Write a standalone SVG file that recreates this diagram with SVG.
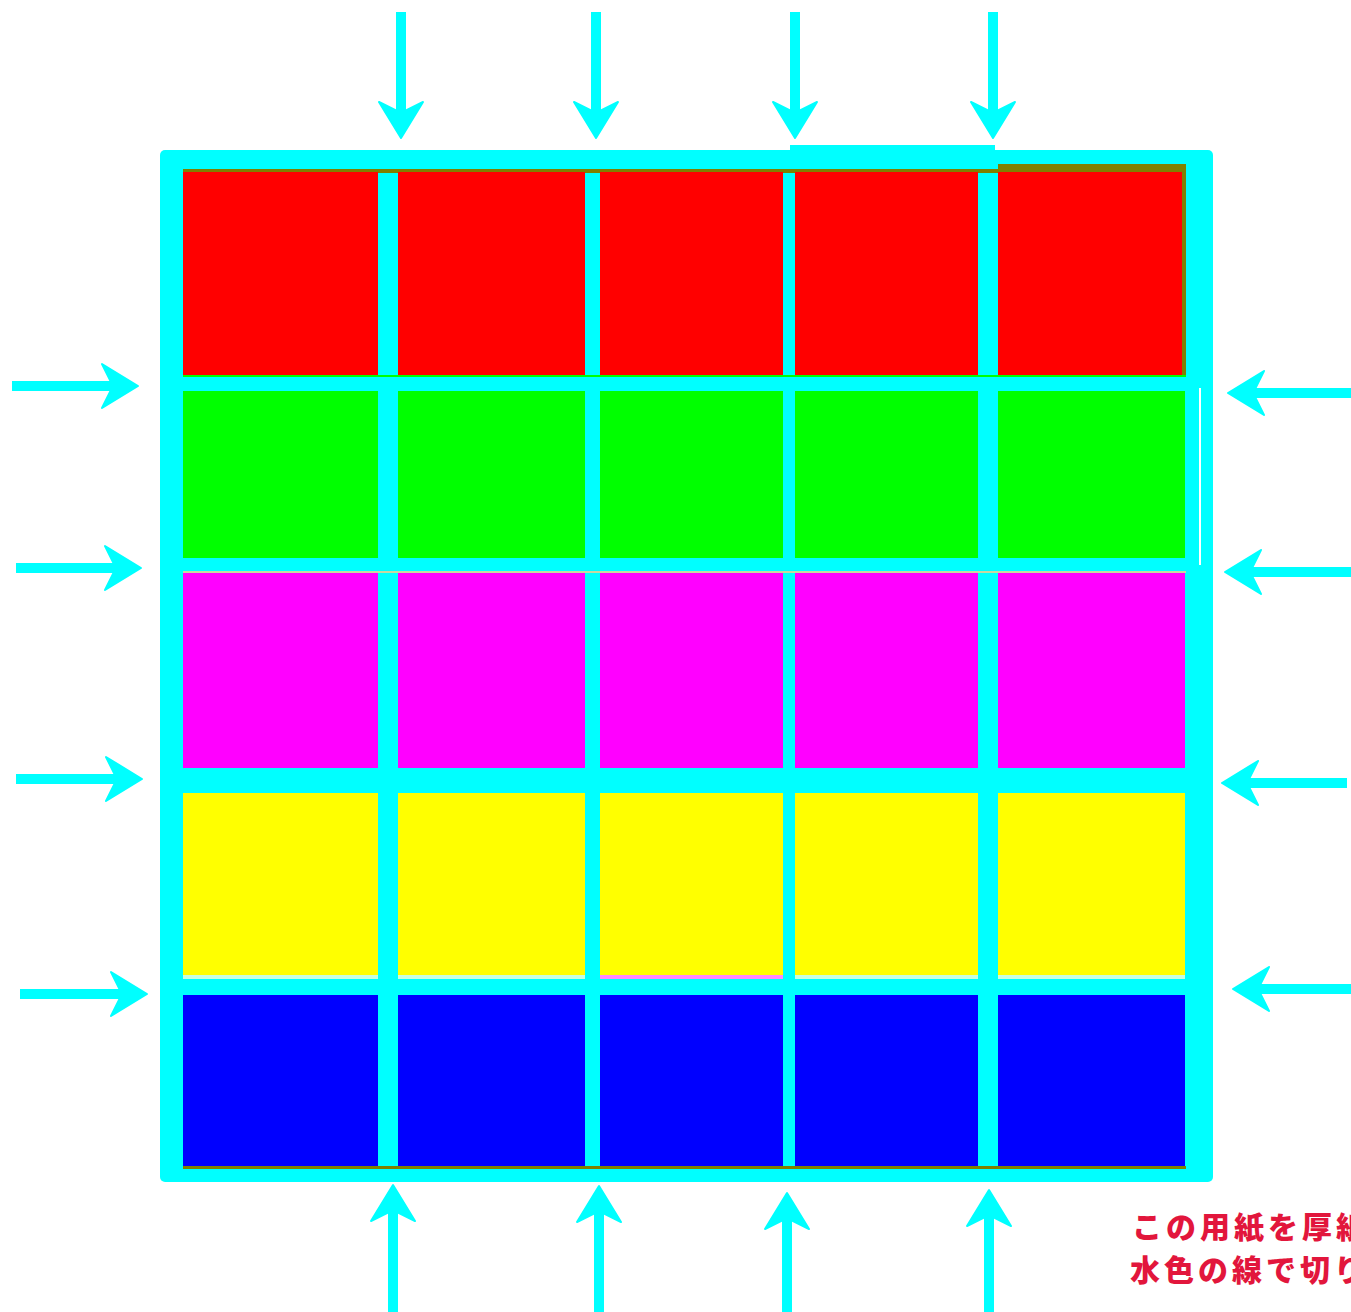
<svg xmlns="http://www.w3.org/2000/svg" xmlns:xlink="http://www.w3.org/1999/xlink" width="1351" height="1312" viewBox="0 0 1351 1312">
<style>
.frame{fill:#00ffff}
.shaft{stroke:#00ffff;stroke-width:10;fill:none}
.head{fill:#00ffff;stroke:#00ffff;stroke-width:2;stroke-linejoin:round}
.r{fill:#ff0000}.g{fill:#00ff00}.m{fill:#ff00ff}.y{fill:#ffff00}.b{fill:#0000ff}
.ol{fill:#808000}
.note{font-family:"Noto Sans CJK JP","Noto Sans",sans-serif;font-weight:900;font-size:30px;fill:#e2163c;letter-spacing:4px}
</style>
<defs>
<path id="head" d="M0,0 L-36,-22 L-27,-4 L-27,4 L-36,22 Z"/>
</defs>
<rect width="1351" height="1312" fill="#ffffff"/>
<g id="sheet">
<rect class="frame" x="160" y="150" width="1053" height="1032" rx="5"/>
<rect class="frame" x="790" y="145" width="205" height="12"/>
<rect x="1199" y="388" width="2" height="177" fill="#ffffff"/>
</g>
<g id="row-red">
<rect class="ol" x="183" y="169" width="1003" height="4"/>
<rect class="ol" x="998" y="164" width="188" height="9"/>
<rect class="ol" x="1182" y="164" width="4" height="211"/>
<rect class="r" x="183" y="172" width="195" height="203"/>
<rect class="r" x="398" y="172" width="187" height="203"/>
<rect class="r" x="600" y="172" width="183" height="203"/>
<rect class="r" x="795" y="172" width="183" height="203"/>
<rect class="r" x="998" y="172" width="184" height="203"/>
<rect class="g" x="183" y="375" width="1003" height="2"/>
</g>
<g id="row-green">
<rect class="g" x="183" y="391" width="195" height="167"/>
<rect class="g" x="398" y="391" width="187" height="167"/>
<rect class="g" x="600" y="391" width="183" height="167"/>
<rect class="g" x="795" y="391" width="183" height="167"/>
<rect class="g" x="998" y="391" width="187" height="167"/>
</g>
<g id="row-magenta">
<rect x="183" y="571" width="1003" height="2" fill="#c8d8a0"/>
<rect class="m" x="183" y="573" width="195" height="195"/>
<rect class="m" x="398" y="573" width="187" height="195"/>
<rect class="m" x="600" y="573" width="183" height="195"/>
<rect class="m" x="795" y="573" width="183" height="195"/>
<rect class="m" x="998" y="573" width="187" height="195"/>
</g>
<g id="row-yellow">
<rect class="y" x="183" y="793" width="195" height="182"/>
<rect class="y" x="398" y="793" width="187" height="182"/>
<rect class="y" x="600" y="793" width="183" height="182"/>
<rect class="y" x="795" y="793" width="183" height="182"/>
<rect class="y" x="998" y="793" width="187" height="182"/>
<rect x="183" y="975" width="195" height="4" fill="#c8ffe0"/>
<rect x="398" y="975" width="187" height="4" fill="#c8ffe0"/>
<rect x="600" y="975" width="183" height="4" fill="#ff88ff"/>
<rect x="795" y="975" width="183" height="4" fill="#c8ffe0"/>
<rect x="998" y="975" width="187" height="4" fill="#c8ffe0"/>
</g>
<g id="row-blue">
<rect class="b" x="183" y="995" width="195" height="171"/>
<rect class="b" x="398" y="995" width="187" height="171"/>
<rect class="b" x="600" y="995" width="183" height="171"/>
<rect class="b" x="795" y="995" width="183" height="171"/>
<rect class="b" x="998" y="995" width="187" height="171"/>
<rect class="ol" x="183" y="1166" width="1003" height="3"/>
</g>
<g id="connectors">
<line class="shaft" x1="401" y1="12" x2="401" y2="112"/>
<use href="#head" class="head" transform="translate(401,138) rotate(90)"/>
<line class="shaft" x1="596" y1="12" x2="596" y2="112"/>
<use href="#head" class="head" transform="translate(596,138) rotate(90)"/>
<line class="shaft" x1="795" y1="12" x2="795" y2="112"/>
<use href="#head" class="head" transform="translate(795,138) rotate(90)"/>
<line class="shaft" x1="993" y1="12" x2="993" y2="112"/>
<use href="#head" class="head" transform="translate(993,138) rotate(90)"/>

<line class="shaft" x1="393" y1="1312" x2="393" y2="1212"/>
<use href="#head" class="head" transform="translate(393,1185) rotate(-90)"/>
<line class="shaft" x1="599" y1="1312" x2="599" y2="1212"/>
<use href="#head" class="head" transform="translate(599,1186) rotate(-90)"/>
<line class="shaft" x1="787" y1="1312" x2="787" y2="1220"/>
<use href="#head" class="head" transform="translate(787,1193) rotate(-90)"/>
<line class="shaft" x1="989" y1="1312" x2="989" y2="1217"/>
<use href="#head" class="head" transform="translate(989,1190) rotate(-90)"/>

<line class="shaft" x1="12" y1="386" x2="112" y2="386"/>
<use href="#head" class="head" transform="translate(138,386)"/>
<line class="shaft" x1="16" y1="568" x2="115" y2="568"/>
<use href="#head" class="head" transform="translate(141,568)"/>
<line class="shaft" x1="16" y1="779" x2="116" y2="779"/>
<use href="#head" class="head" transform="translate(142,779)"/>
<line class="shaft" x1="20" y1="994" x2="121" y2="994"/>
<use href="#head" class="head" transform="translate(147,994)"/>

<line class="shaft" x1="1351" y1="393" x2="1254" y2="393"/>
<use href="#head" class="head" transform="translate(1228,393) rotate(180)"/>
<line class="shaft" x1="1351" y1="572" x2="1251" y2="572"/>
<use href="#head" class="head" transform="translate(1225,572) rotate(180)"/>
<line class="shaft" x1="1347" y1="783" x2="1248" y2="783"/>
<use href="#head" class="head" transform="translate(1222,783) rotate(180)"/>
<line class="shaft" x1="1351" y1="989" x2="1259" y2="989"/>
<use href="#head" class="head" transform="translate(1233,989) rotate(180)"/>
</g>
<g id="note">
<text class="note" x="1132" y="1238">この用紙を厚紙</text>
<text class="note" x="1130" y="1281">水色の線で切り</text>
</g>
</svg>
